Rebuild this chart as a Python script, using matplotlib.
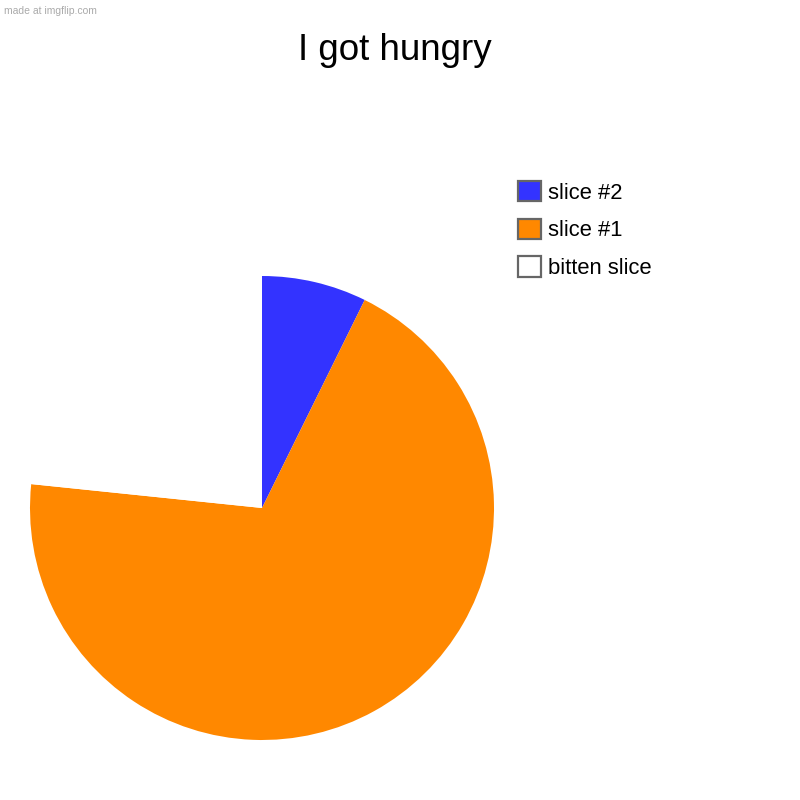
import matplotlib
matplotlib.use("Agg")
import matplotlib.pyplot as plt
from matplotlib.patches import Patch

labels = ["slice #2", "slice #1", "bitten slice"]
values = [10, 95, 32]
colors = ["#3333FF", "#FF8800", "#FFFFFF"]
title = "I got hungry"

plt.rcParams['font.family'] = ['Liberation Sans', 'DejaVu Sans']

fig = plt.figure(figsize=(8, 8), dpi=100)
fig.patch.set_facecolor("white")

cx, cy, r = 262, 508, 232
ax = fig.add_axes([(cx - r) / 800, (800 - cy - r) / 800, 2 * r / 800, 2 * r / 800])
ax.pie(values, colors=colors, startangle=90, counterclock=False, radius=1,
       wedgeprops=dict(linewidth=0))
ax.set_xlim(-1, 1)
ax.set_ylim(-1, 1)
ax.set_aspect("equal")
ax.axis("off")

fig.text(395 / 800, 1 - 60 / 800, title, ha="center", va="baseline", fontsize=26.5, color="black")
fig.text(4 / 800, 1 - 13.5 / 800, "made at imgflip.com", ha="left", va="baseline", fontsize=7.5, color="#aaaaaa")

handles = [Patch(facecolor=c, edgecolor="#666666", linewidth=1.6) for c in colors]
leg = fig.legend(handles, labels, loc="upper left", bbox_to_anchor=(518 / 800, 1 - 181 / 800),
                 frameon=False, fontsize=15.8, handlelength=1.05, handleheight=1.05,
                 handletextpad=0.3, labelspacing=0.68, borderaxespad=0, borderpad=0)

fig.savefig("out.png", dpi=100, facecolor="white")
